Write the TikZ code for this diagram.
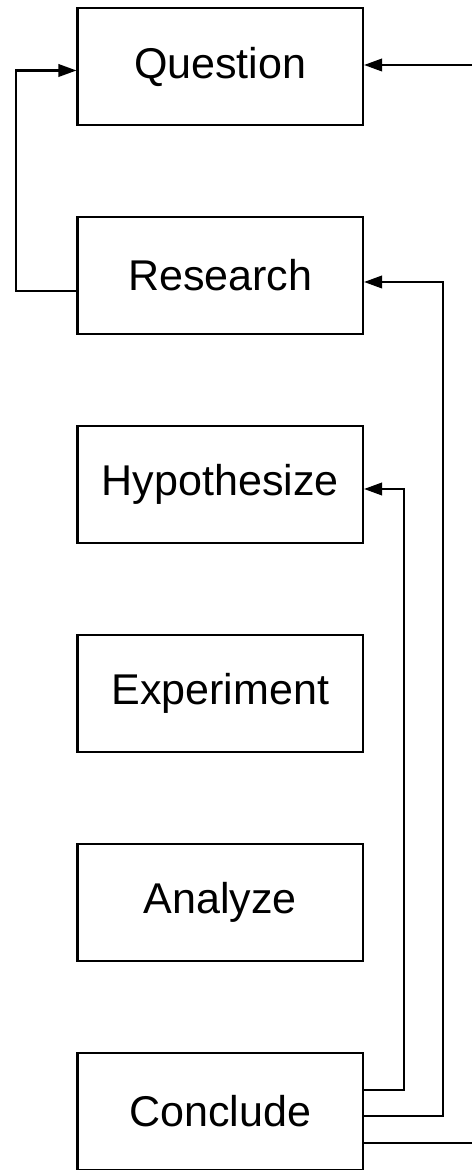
\documentclass[tikz,border=0pt]{standalone}
\usepackage{fontspec}
\setmainfont{Liberation Sans}
\usetikzlibrary{arrows.meta}

\begin{document}
\begin{tikzpicture}[
        stage/.style={rectangle, draw, line width=1.2pt, inner sep=0pt,
            minimum width=5.71cm, minimum height=2.34cm,
            font=\fontsize{24.5}{29}\selectfont},
        feedback/.style={-{Triangle[length=0.36cm, width=0.25cm]}, line width=1.2pt}
    ]
        \useasboundingbox (0,0) rectangle (9.44,23.4);
        \clip (0,0) rectangle (9.44,23.4);

        % Steps of the method
        \node[stage] (question) at (4.405, 22.07) {Question};
        \node[stage] (research) at (4.405, 17.89) {Research};
        \node[stage] (hypothesize) at (4.405, 13.71) {Hypothesize};
        \node[stage] (experiment) at (4.405, 9.53) {Experiment};
        \node[stage] (analyze) at (4.405, 5.35) {Analyze};
        \node[stage] (conclude) at (4.405, 1.17) {Conclude};

        % Research loops back to the question
        \draw[feedback] ([yshift=-0.31cm]research.west) -- ++(-1.21cm,0)
            |- ([yshift=-0.08cm]question.west);

        % Conclusions feed back into earlier steps
        \draw[feedback] ([yshift=0.43cm]conclude.east) -- ++(0.8cm,0)
            |- ([yshift=-0.09cm]hypothesize.east);
        \draw[feedback] ([yshift=-0.09cm]conclude.east) -- ++(1.58cm,0)
            |- ([yshift=-0.13cm]research.east);
        \draw[feedback] ([yshift=-0.63cm]conclude.east) -- ++(3cm,0)
            |- ([yshift=0.03cm]question.east);
    \end{tikzpicture}
\end{document}
